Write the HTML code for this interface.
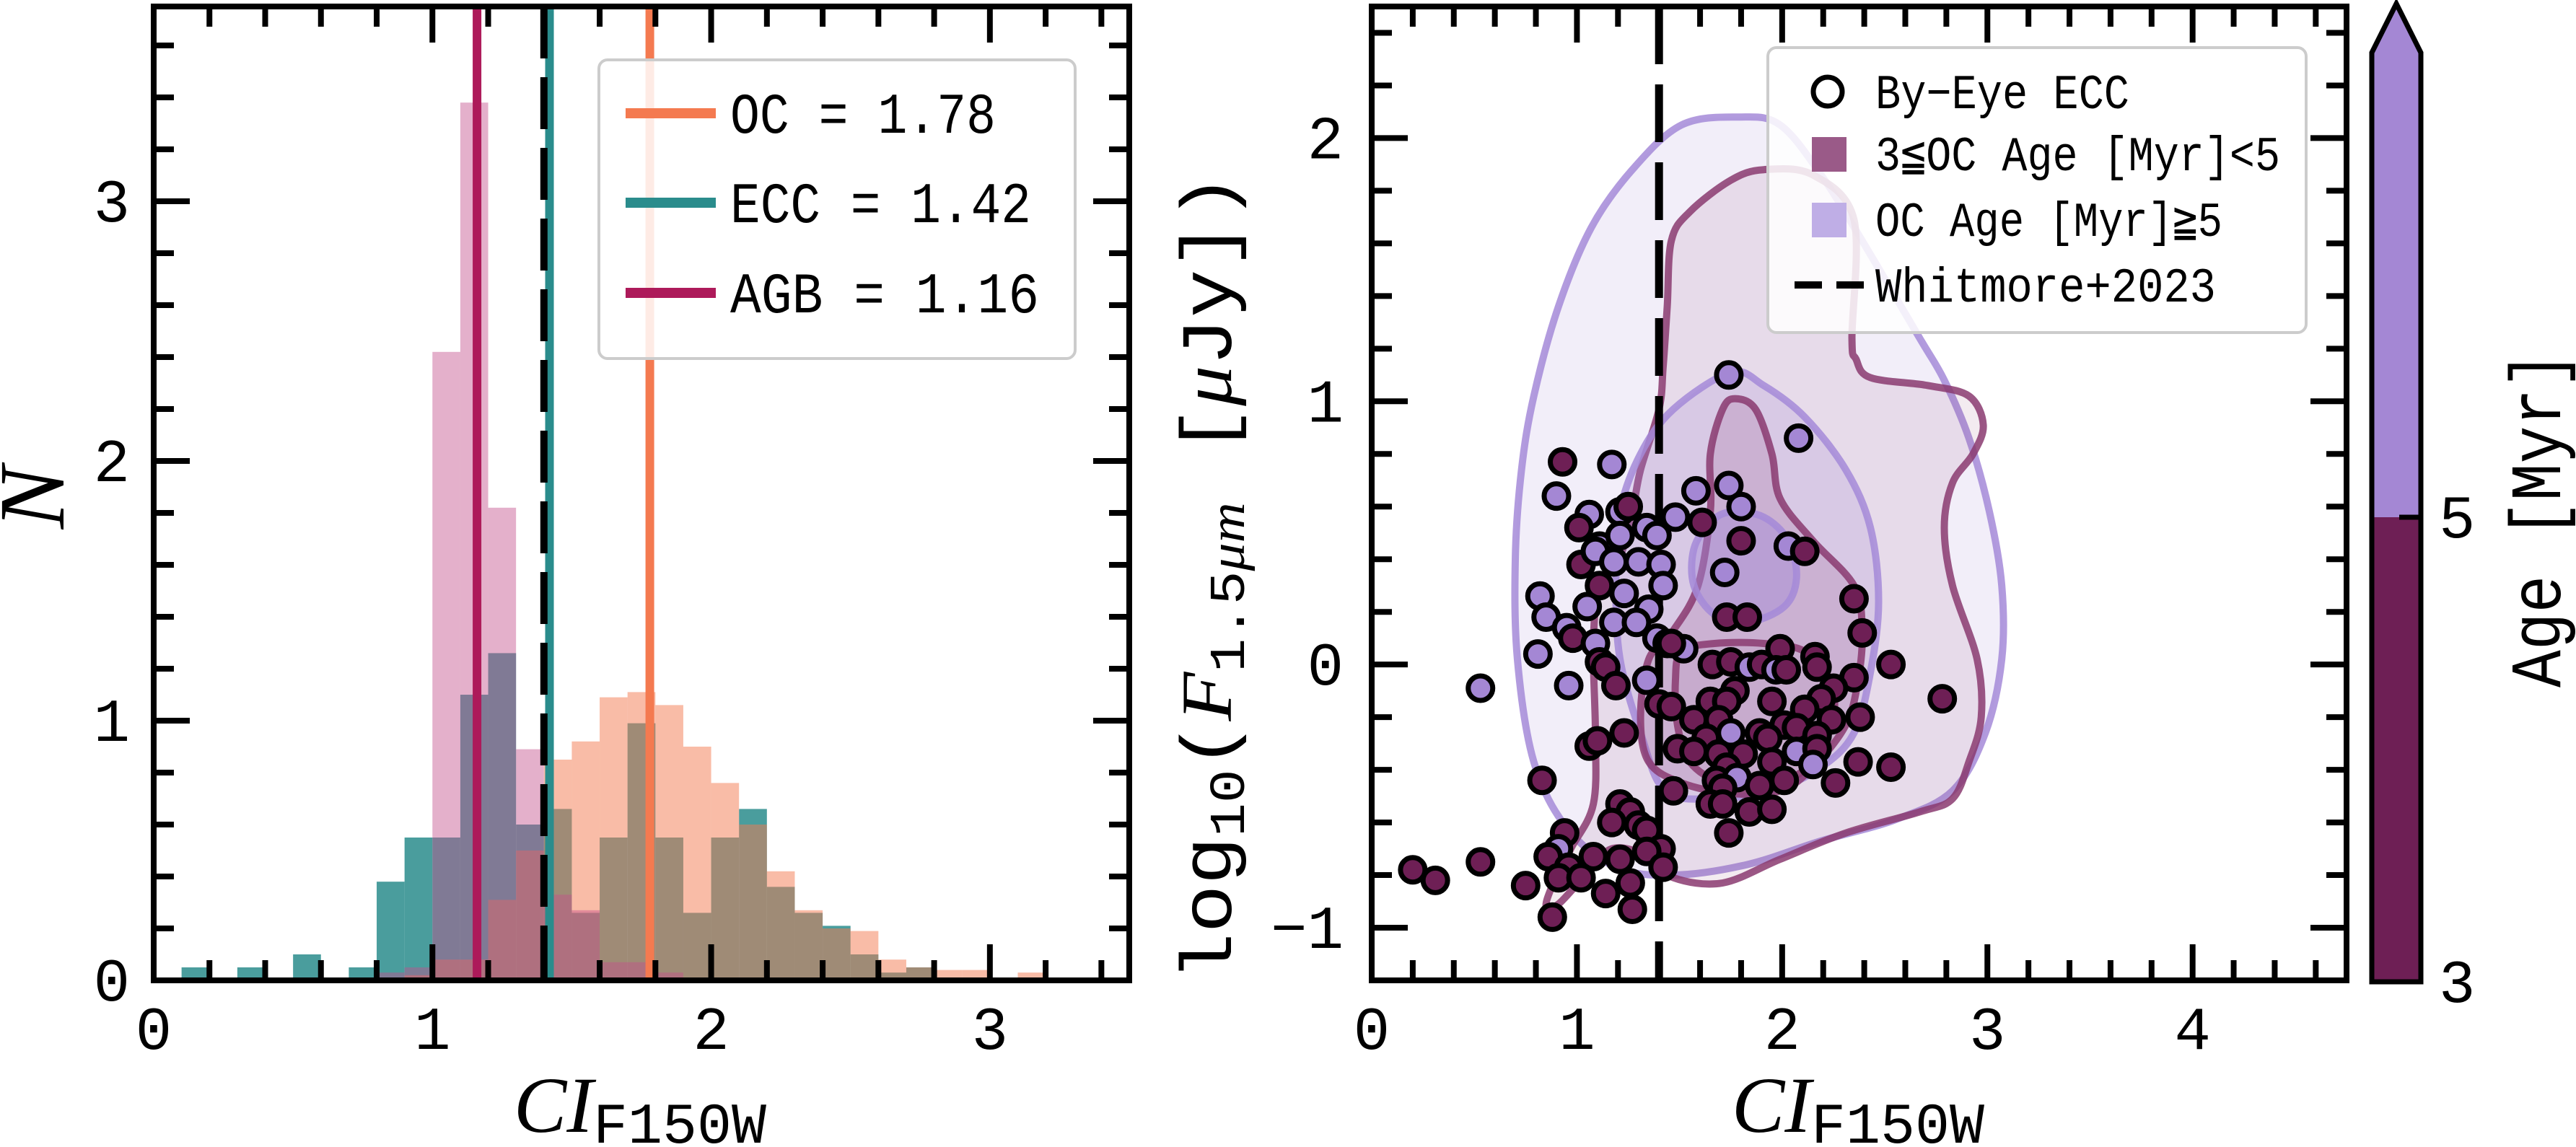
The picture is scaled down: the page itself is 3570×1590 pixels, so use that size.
<!DOCTYPE html>
<html><head><meta charset="utf-8"><style>
html,body{margin:0;padding:0;background:#fff;}
svg{display:block;}
text{font-family:"Liberation Mono","DejaVu Sans Mono",monospace;fill:#000;}
.it{font-family:"Liberation Serif",serif;font-style:italic;}
</style></head><body>
<svg id="fig" width="3570" height="1590" viewBox="0 0 3570 1590" xmlns="http://www.w3.org/2000/svg">
<g id="left"></g>
<g id="right"></g>
<g id="cbar"></g>
</svg>
<script>
// ---------- Left histogram data ----------
const binStart = 0, binWidth = 0.1;
const ocCounts  = [0,0,0,0,0,0,0.01,0.01,0.01,0.02,0.08,0.08,0.31,0.5,0.85,0.92,1.09,1.11,1.06,0.9,0.76,0.6,0.42,0.27,0.2,0.19,0.08,0.05,0.04,0.04,0.01,0.03,0.01,0];
const eccCounts = [0,0.05,0,0.05,0,0.1,0,0.05,0.38,0.55,0.55,1.1,1.26,0.6,0.66,0.26,0.55,0.99,0.55,0.26,0.55,0.66,0.36,0.26,0.21,0.1,0.03,0.05,0,0,0,0,0,0];
const agbCounts = [0,0,0,0,0,0,0,0,0.03,0.05,2.42,3.38,1.82,0.89,0.33,0.27,0.07,0.07,0.03,0,0,0,0,0,0,0,0,0,0,0,0,0,0,0];
const medianNames = ["OC","ECC","AGB"];
const medianValues = [1.78,1.42,1.16];
const whitmoreCut = 1.4;
const leftXTicks = [0,1,2,3];
const leftYTicks = [0,1,2,3];

// ---------- Right scatter data ----------
const eccX = [0.93,1.17,0.90,1.06,1.21,1.25,1.01,1.11,1.21,1.34,1.39,1.48,1.58,1.61,1.74,1.80,1.80,2.03,2.11,2.08,1.74,1.72,1.02,1.09,1.18,1.30,1.41,1.11,1.23,1.42,0.82,1.05,1.35,0.85,1.18,1.29,0.95,0.98,1.09,1.39,1.44,1.52,1.46,0.81,1.11,1.14,0.53,0.96,1.19,1.34,1.40,1.46,1.73,1.83,2.35,2.39,2.53,2.78,1.66,1.75,1.84,1.90,1.99,1.97,2.02,2.16,2.17,2.35,2.25,1.77,1.65,1.73,1.95,2.19,2.11,1.57,1.69,2.01,2.24,2.38,1.75,1.89,2.07,1.63,1.93,2.17,1.49,1.57,1.69,1.81,2.07,2.17,1.73,1.95,2.15,2.37,2.53,1.68,1.78,2.01,1.89,2.26,1.47,1.71,1.65,1.71,1.84,1.95,1.74,0.83,1.06,1.10,1.23,1.21,1.26,1.17,1.30,1.34,1.41,1.34,1.42,0.94,0.91,0.86,1.08,1.21,0.96,0.91,1.02,1.26,1.14,1.27,0.88,0.75,0.53,0.20,0.31];
const eccY = [0.77,0.76,0.64,0.57,0.58,0.60,0.52,0.45,0.49,0.52,0.49,0.56,0.66,0.54,0.68,0.60,0.47,0.45,0.43,0.86,1.10,0.35,0.38,0.43,0.39,0.39,0.38,0.30,0.27,0.30,0.26,0.22,0.21,0.18,0.16,0.16,0.14,0.10,0.08,0.10,0.08,0.06,0.08,0.04,0.01,-0.01,-0.09,-0.08,-0.08,-0.06,-0.15,-0.16,0.18,0.18,0.25,0.12,0.00,-0.13,0.00,0.01,-0.01,0.00,0.06,-0.02,-0.02,0.03,-0.01,-0.05,-0.09,-0.10,-0.14,-0.14,-0.14,-0.13,-0.17,-0.21,-0.21,-0.23,-0.21,-0.20,-0.26,-0.26,-0.24,-0.28,-0.28,-0.27,-0.32,-0.33,-0.34,-0.34,-0.33,-0.32,-0.39,-0.37,-0.38,-0.37,-0.39,-0.44,-0.43,-0.44,-0.46,-0.45,-0.48,-0.47,-0.53,-0.53,-0.56,-0.55,-0.64,-0.44,-0.31,-0.29,-0.26,-0.53,-0.56,-0.60,-0.61,-0.63,-0.70,-0.71,-0.77,-0.64,-0.70,-0.73,-0.73,-0.74,-0.77,-0.81,-0.81,-0.83,-0.87,-0.93,-0.96,-0.84,-0.75,-0.78,-0.82];
const eccOld = "dllllddlllllldlldldllldlllldllllllllldlldldlddlldlddddddddddlddlddddddddddddddddldddddddddldddldddldddddddddddddddddddddddldddddddddddddddd".split("");
const rightXTicks = [0,1,2,3,4];
const rightYTicks = [-1,0,1,2];
// contour outlines (data units)
const lp1 = [[1.79,2.08],[1.99,2.05],[2.19,1.86],[2.39,1.61],[2.67,1.24],[2.79,1.08],[2.91,0.86],[3.01,0.58],[3.07,0.30],[3.07,0.02],[2.99,-0.26],[2.83,-0.48],[2.55,-0.59],[2.19,-0.67],[1.83,-0.76],[1.47,-0.80],[1.19,-0.77],[0.95,-0.62],[0.79,-0.37],[0.71,0.02],[0.70,0.41],[0.73,0.74],[0.79,1.02],[0.91,1.36],[1.07,1.66],[1.27,1.88],[1.51,2.05]];
const dk1 = [[1.91,1.88],[1.75,1.84],[1.55,1.72],[1.46,1.61],[1.44,1.36],[1.42,1.13],[1.40,0.97],[1.31,0.74],[1.27,0.58],[1.21,0.41],[1.11,0.30],[1.08,0.08],[1.09,-0.26],[1.08,-0.53],[0.97,-0.70],[0.88,-0.84],[0.85,-0.92],[0.91,-0.91],[1.03,-0.81],[1.17,-0.70],[1.35,-0.73],[1.47,-0.81],[1.71,-0.83],[1.99,-0.74],[2.31,-0.64],[2.67,-0.56],[2.83,-0.51],[2.91,-0.37],[2.97,-0.20],[2.95,0.02],[2.83,0.30],[2.79,0.52],[2.83,0.69],[2.93,0.80],[2.98,0.91],[2.91,1.02],[2.71,1.06],[2.43,1.09],[2.36,1.16],[2.34,1.24],[2.35,1.69],[2.15,1.86]];
const lp2 = [[1.75,1.11],[1.91,1.06],[2.11,0.94],[2.31,0.74],[2.43,0.52],[2.47,0.24],[2.43,-0.03],[2.35,-0.26],[2.19,-0.39],[1.95,-0.48],[1.67,-0.51],[1.43,-0.48],[1.31,-0.26],[1.21,0.02],[1.19,0.30],[1.21,0.58],[1.31,0.80],[1.47,0.97]];
const dk2 = [[1.77,1.01],[1.87,0.97],[1.95,0.80],[1.99,0.63],[2.15,0.47],[2.35,0.30],[2.39,0.13],[2.37,-0.06],[2.31,-0.23],[2.15,-0.39],[1.99,-0.48],[1.75,-0.49],[1.51,-0.45],[1.35,-0.37],[1.31,-0.20],[1.35,0.02],[1.47,0.13],[1.59,0.30],[1.65,0.58],[1.65,0.80],[1.71,0.97]];
const lp3 = [[1.75,0.58],[1.91,0.56],[2.03,0.47],[2.07,0.33],[2.01,0.22],[1.83,0.16],[1.67,0.19],[1.57,0.30],[1.57,0.44],[1.65,0.54]];
const dk3 = [[1.51,0.05],[1.67,0.08],[1.91,0.08],[2.11,0.05],[2.23,-0.06],[2.25,-0.20],[2.15,-0.37],[1.95,-0.46],[1.71,-0.45],[1.55,-0.37],[1.49,-0.23],[1.48,-0.06]];

const NS="http://www.w3.org/2000/svg";
function mk(parent,tag,attrs,txt){const e=document.createElementNS(NS,tag);for(const k in attrs)e.setAttribute(k,attrs[k]);if(txt!==undefined)e.textContent=txt;parent.appendChild(e);return e;}

// ---------- Left panel ----------
const L={x0:213,x1:1565,y0:1359,y1:9,xmin:0,xmax:3.5,ymin:0,ymax:3.75};
const lx=v=>L.x0+(v-L.xmin)/(L.xmax-L.xmin)*(L.x1-L.x0);
const ly=v=>L.y0-(v-L.ymin)/(L.ymax-L.ymin)*(L.y0-L.y1);
const lg=document.getElementById('left');
function drawHist(counts,color,op,name){
  counts.forEach((c,i)=>{ if(c<=0)return;
    const a=binStart+i*binWidth;
    const r=mk(lg,'rect',{x:lx(a),y:ly(c),width:lx(a+binWidth)-lx(a),height:ly(0)-ly(c),fill:color,'fill-opacity':op});
    
    
  });
}
drawHist(eccCounts,'#2a8c8c',0.85,'ecc');
drawHist(ocCounts,'#f47a50',0.5,'oc');
drawHist(agbCounts,'#c4508c',0.45,'agb');
const medColors=['#f47a50','#2a8c8c','#ad1a5a'];
medianValues.forEach((m,i)=>{
  const l=mk(lg,'line',{x1:lx(m),x2:lx(m),y1:L.y1,y2:L.y0,stroke:medColors[i],'stroke-width':12});
  
  
});
{const l=mk(lg,'line',{x1:lx(whitmoreCut),x2:lx(whitmoreCut),y1:L.y1,y2:L.y0,stroke:'#000','stroke-width':10,'stroke-dasharray':'72 26'});
}

function axes(g,A,fx,fy,xt,yt,xminorStep,yminorStep,prefix,ylabX,xlabY){
  const W=8;
  for(let v=Math.ceil(A.xmin/xminorStep)*xminorStep; v<=A.xmax+1e-9; v+=xminorStep){
    const major=xt.some(t=>Math.abs(t-v)<1e-6); const len=major?50:28; const X=fx(v);
    mk(g,'line',{x1:X,x2:X,y1:A.y0,y2:A.y0-len,stroke:'#000','stroke-width':W});
    mk(g,'line',{x1:X,x2:X,y1:A.y1,y2:A.y1+len,stroke:'#000','stroke-width':W});
  }
  for(let v=Math.ceil(A.ymin/yminorStep-1e-9)*yminorStep; v<=A.ymax+1e-9; v+=yminorStep){
    const major=yt.some(t=>Math.abs(t-v)<1e-6); const len=major?50:28; const Y=fy(v);
    mk(g,'line',{x1:A.x0,x2:A.x0+len,y1:Y,y2:Y,stroke:'#000','stroke-width':W});
    mk(g,'line',{x1:A.x1,x2:A.x1-len,y1:Y,y2:Y,stroke:'#000','stroke-width':W});
  }
  const fr=mk(g,'rect',{x:A.x0,y:A.y1,width:A.x1-A.x0,height:A.y0-A.y1,fill:'none',stroke:'#000','stroke-width':8});
  
  xt.forEach(t=>{const e=mk(g,'text',{x:fx(t),y:xlabY,'font-size':84,'text-anchor':'middle'},String(t).replace('-','\u2212'));
    });
  yt.forEach(t=>{const e=mk(g,'text',{x:ylabX,y:fy(t)+28,'font-size':84,'text-anchor':'end'},String(t).replace('-','\u2212'));
    });
}
axes(lg,L,lx,ly,leftXTicks,leftYTicks,0.2,0.2,'left',180,1454);

// left legend
{const lb=mk(lg,'rect',{x:830,y:83,width:660,height:414,rx:12,fill:'#fff','fill-opacity':0.85,stroke:'#ccc','stroke-width':4});

const ys=[157,281,406];const lens=[368,417,428];
medianNames.forEach((n,i)=>{
  mk(lg,'line',{x1:867,x2:992,y1:ys[i],y2:ys[i],stroke:medColors[i],'stroke-width':14});
  const t=mk(lg,'text',{x:1012,y:ys[i]+27,'font-size':80,textLength:lens[i],lengthAdjust:'spacingAndGlyphs'},n+' = '+medianValues[i].toFixed(2));
  
  
});}
function xTitle(g,x0,name){
  const t=mk(g,'text',{x:x0,y:1569,'font-size':110});
  
  mk(t,'tspan',{class:'it'},'CI');mk(t,'tspan',{'font-size':80,dy:15},'F150W');
}
xTitle(lg,712,'left-x-axis-title');
{const t=mk(lg,'text',{x:0,y:0,'font-size':130,class:'it',transform:'translate(88,690) rotate(-90)','text-anchor':'middle'},'N');
}

// ---------- Right panel ----------
const R={x0:1901,x1:3252,y0:1359,y1:9,xmin:0,xmax:4.75,ymin:-1.2,ymax:2.5};
const rx=v=>R.x0+(v-R.xmin)/(R.xmax-R.xmin)*(R.x1-R.x0);
const ry=v=>R.y0-(v-R.ymin)/(R.ymax-R.ymin)*(R.y0-R.y1);
const rg=document.getElementById('right');
const defs=mk(rg,'defs',{});const cp=mk(defs,'clipPath',{id:'rclip'});mk(cp,'rect',{x:R.x0,y:R.y1,width:R.x1-R.x0,height:R.y0-R.y1});
const plot=mk(rg,'g',{'clip-path':'url(#rclip)'});
function smooth(pts){
  const P=pts.map(p=>[rx(p[0]),ry(p[1])]);const n=P.length;let d='M'+P[0][0]+','+P[0][1];
  for(let i=0;i<n;i++){const p0=P[(i-1+n)%n],p1=P[i],p2=P[(i+1)%n],p3=P[(i+2)%n];
    const c1=[p1[0]+(p2[0]-p0[0])/6,p1[1]+(p2[1]-p0[1])/6],c2=[p2[0]-(p3[0]-p1[0])/6,p2[1]-(p3[1]-p1[1])/6];
    d+=' C'+c1[0]+','+c1[1]+' '+c2[0]+','+c2[1]+' '+p2[0]+','+p2[1];}
  return d+'Z';
}
function contour(pts,fill,fop,stroke,name){
  const p=mk(plot,'path',{d:smooth(pts),fill:fill,'fill-opacity':fop,stroke:stroke,'stroke-width':10,'stroke-opacity':0.85});
  
}
contour(lp1,'#a48ad8',0.14,'#a48ad8','old-contour-outer');
contour(dk1,'#8a3a70',0.1,'#8a3a70','young-contour-outer');
contour(lp2,'#a48ad8',0.22,'#a48ad8','old-contour-mid');
contour(dk2,'#8a3a70',0.16,'#8a3a70','young-contour-mid');
contour(lp3,'#a48ad8',0.45,'#a48ad8','old-contour-inner');
contour(dk3,'#8a3a70',0.05,'#8a3a70','young-contour-inner');
{const l=mk(plot,'line',{x1:rx(whitmoreCut),x2:rx(whitmoreCut),y1:R.y1,y2:R.y0,stroke:'#000','stroke-width':11,'stroke-dasharray':'80 28'});
}
eccX.forEach((x,i)=>{
  const c=mk(plot,'circle',{cx:rx(x),cy:ry(eccY[i]),r:17,fill:eccOld[i]==='l'?'#a487d4':'#6e1f55',stroke:'#000','stroke-width':7});
  
  
});
axes(rg,R,rx,ry,rightXTicks,rightYTicks,0.2,0.2,'right',1862,1454);
// right legend
{const lb=mk(rg,'rect',{x:2450,y:66,width:746,height:395,rx:12,fill:'#fff','fill-opacity':0.85,stroke:'#ccc','stroke-width':4});

const e1=mk(rg,'circle',{cx:2533,cy:127,r:20,fill:'#fff',stroke:'#000','stroke-width':7});

const t1=mk(rg,'text',{x:2599,y:150,'font-size':68,textLength:352,lengthAdjust:'spacingAndGlyphs'},'By\u2212Eye ECC');
mk(rg,'rect',{x:2511,y:190,width:48,height:48,fill:'#9a5a88'});
const t2=mk(rg,'text',{x:2599,y:236,'font-size':68,textLength:561,lengthAdjust:'spacingAndGlyphs'},'3\u2266OC Age [Myr]<5');
mk(rg,'rect',{x:2511,y:281,width:48,height:48,fill:'#bfaee6'});
const t3=mk(rg,'text',{x:2599,y:327,'font-size':68,textLength:481,lengthAdjust:'spacingAndGlyphs'},'OC Age [Myr]\u22675');
mk(rg,'line',{x1:2487,x2:2585,y1:395,y2:395,stroke:'#000','stroke-width':10,'stroke-dasharray':'38 20'});
const t4=mk(rg,'text',{x:2599,y:418,'font-size':68,textLength:472,lengthAdjust:'spacingAndGlyphs'},'Whitmore+2023');}
xTitle(rg,2400,'right-x-axis-title');
{const t=mk(rg,'text',{x:0,y:0,'font-size':100,transform:'translate(1706,1360) rotate(-90)',textLength:1120,lengthAdjust:'spacingAndGlyphs'});

mk(t,'tspan',{},'log');mk(t,'tspan',{'font-size':70,dy:18},'10');mk(t,'tspan',{dy:-18},'(');
mk(t,'tspan',{class:'it'},'F');mk(t,'tspan',{'font-size':70,dy:18},'1.5');mk(t,'tspan',{'font-size':70,class:'it'},'\u03bcm');
mk(t,'tspan',{dy:-18},' [');mk(t,'tspan',{class:'it'},'\u03bc');mk(t,'tspan',{},'Jy])');}

// ---------- Colorbar ----------
const cbTicks=[3,5];
const cg=document.getElementById('cbar');
const C={x0:3287,x1:3355,y0:1361,y1:73,vmin:3,vmax:7};
const cy=v=>C.y0-(v-C.vmin)/(C.vmax-C.vmin)*(C.y0-C.y1);
mk(cg,'rect',{x:C.x0,y:cy(5),width:C.x1-C.x0,height:C.y0-cy(5),fill:'#6e1f55'});
mk(cg,'rect',{x:C.x0,y:C.y1,width:C.x1-C.x0,height:cy(5)-C.y1,fill:'#a487d4'});
mk(cg,'path',{d:`M${C.x0},${C.y1} L${(C.x0+C.x1)/2},5 L${C.x1},${C.y1} Z`,fill:'#a487d4'});
mk(cg,'path',{d:`M${C.x0},${C.y0} L${C.x0},${C.y1} L${(C.x0+C.x1)/2},5 L${C.x1},${C.y1} L${C.x1},${C.y0} Z`,fill:'none',stroke:'#000','stroke-width':7});
cbTicks.forEach(t=>{
  mk(cg,'line',{x1:C.x1-30,x2:C.x1,y1:cy(t),y2:cy(t),stroke:'#000','stroke-width':7});
  const e=mk(cg,'text',{x:3380,y:cy(t)+28,'font-size':84},String(t));
  
});
{const t=mk(cg,'text',{x:0,y:0,'font-size':100,transform:'translate(3548,720) rotate(-90)','text-anchor':'middle',textLength:466,lengthAdjust:'spacingAndGlyphs'},'Age [Myr]');
}
</script>
</body></html>
